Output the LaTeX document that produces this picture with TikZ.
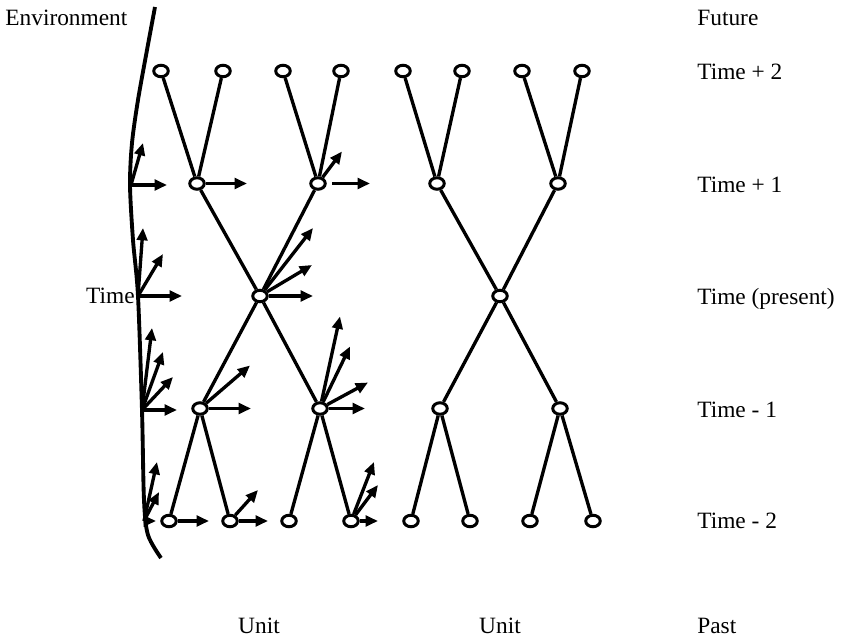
\documentclass[tikz,border=0pt]{standalone}
\usepackage{fontspec}
\setmainfont{Liberation Serif}
\usetikzlibrary{arrows.meta,positioning,shapes.geometric}
\tikzstyle{unitnode} = [ellipse, draw, line width=1.7pt, minimum width=0.29cm, minimum height=0.23cm, inner sep=0pt]
\tikzstyle{line} = [line width=1.9pt]
\tikzstyle{arrow} = [line width=1.9pt, -{Triangle[length=7pt,width=6pt]}]
\tikzstyle{tag} = [inner sep=0pt, font=\fontsize{13.3}{16}\selectfont]

\begin{document}
\begin{tikzpicture}[node distance=2.25cm]
\useasboundingbox (0,0) rectangle (17.02,-12.82);

% environment
\draw [line width=2.2pt] plot [smooth] coordinates {(3.1,-0.14) (2.94,-1.0) (2.76,-2.0) (2.64,-2.86) (2.6,-3.7) (2.66,-4.8) (2.76,-5.92) (2.84,-8.2) (2.88,-10.0) (2.96,-10.7) (3.22,-11.16)};
\coordinate (envp1) at (2.62,-3.70);
\coordinate (envnow) at (2.76,-5.92);
\coordinate (envm1) at (2.84,-8.2);
\coordinate (envm2) at (2.88,-10.42);

% left unit
\node (lnow) [unitnode] at (5.2,-5.92) {};
\node (lp1a) [unitnode, above of=lnow, xshift=-1.26cm] {};
\node (lp1b) [unitnode, above of=lnow, xshift=1.16cm] {};
\node (lp2a) [unitnode, above of=lp1a, xshift=-0.72cm] {};
\node (lp2b) [unitnode, above of=lp1a, xshift=0.52cm] {};
\node (lp2c) [unitnode, above of=lp1b, xshift=-0.7cm] {};
\node (lp2d) [unitnode, above of=lp1b, xshift=0.46cm] {};
\node (lm1a) [unitnode, below of=lnow, xshift=-1.2cm] {};
\node (lm1b) [unitnode, below of=lnow, xshift=1.2cm] {};
\node (lm2a) [unitnode, below of=lm1a, xshift=-0.62cm] {};
\node (lm2b) [unitnode, below of=lm1a, xshift=0.6cm] {};
\node (lm2c) [unitnode, below of=lm1b, xshift=-0.62cm] {};
\node (lm2d) [unitnode, below of=lm1b, xshift=0.62cm] {};

% right unit
\node (rnow) [unitnode, right of=lnow, node distance=4.8cm] {};
\node (rp1a) [unitnode, above of=rnow, xshift=-1.26cm] {};
\node (rp1b) [unitnode, above of=rnow, xshift=1.16cm] {};
\node (rp2a) [unitnode, above of=rp1a, xshift=-0.68cm] {};
\node (rp2b) [unitnode, above of=rp1a, xshift=0.5cm] {};
\node (rp2c) [unitnode, above of=rp1b, xshift=-0.72cm] {};
\node (rp2d) [unitnode, above of=rp1b, xshift=0.48cm] {};
\node (rm1a) [unitnode, below of=rnow, xshift=-1.2cm] {};
\node (rm1b) [unitnode, below of=rnow, xshift=1.2cm] {};
\node (rm2a) [unitnode, below of=rm1a, xshift=-0.58cm] {};
\node (rm2b) [unitnode, below of=rm1a, xshift=0.6cm] {};
\node (rm2c) [unitnode, below of=rm1b, xshift=-0.6cm] {};
\node (rm2d) [unitnode, below of=rm1b, xshift=0.66cm] {};

% texts
\node (envtext) [tag, anchor=base west] at (0.1,-0.51) {Environment};
\node (timetext) [tag, anchor=base east] at (2.7,-6.07) {Time};
\node (future) [tag, anchor=base west] at (13.94,-0.51) {Future};
\node (tp2) [tag, anchor=base west] at (13.94,-1.59) {Time + 2};
\node (tp1) [tag, anchor=base west] at (13.94,-3.85) {Time + 1};
\node (tnow) [tag, anchor=base west] at (13.94,-6.09) {Time (present)};
\node (tm1) [tag, anchor=base west] at (13.94,-8.35) {Time - 1};
\node (tm2) [tag, anchor=base west] at (13.94,-10.57) {Time - 2};
\node (past) [tag, anchor=base west] at (13.94,-12.67) {Past};
\node (unitl) [tag, anchor=base] at (5.18,-12.67) {Unit};
\node (unitr) [tag, anchor=base] at (10.0,-12.67) {Unit};

% links
\draw [line] (lnow) -- (lp1a);
\draw [line] (lnow) -- (lp1b);
\draw [line] (lp1a) -- (lp2a);
\draw [line] (lp1a) -- (lp2b);
\draw [line] (lp1b) -- (lp2c);
\draw [line] (lp1b) -- (lp2d);
\draw [line] (lnow) -- (lm1a);
\draw [line] (lnow) -- (lm1b);
\draw [line] (lm1a) -- (lm2a);
\draw [line] (lm1a) -- (lm2b);
\draw [line] (lm1b) -- (lm2c);
\draw [line] (lm1b) -- (lm2d);
\draw [line] (rnow) -- (rp1a);
\draw [line] (rnow) -- (rp1b);
\draw [line] (rp1a) -- (rp2a);
\draw [line] (rp1a) -- (rp2b);
\draw [line] (rp1b) -- (rp2c);
\draw [line] (rp1b) -- (rp2d);
\draw [line] (rnow) -- (rm1a);
\draw [line] (rnow) -- (rm1b);
\draw [line] (rm1a) -- (rm2a);
\draw [line] (rm1a) -- (rm2b);
\draw [line] (rm1b) -- (rm2c);
\draw [line] (rm1b) -- (rm2d);

% outputs to the environment
\draw [arrow] (envp1) -- ([shift={(0.24,0.84)}]envp1);
\draw [arrow] (envp1) -- ([shift={(0.72,0)}]envp1);
\draw [arrow] (envnow) -- ([shift={(0.1,1.36)}]envnow);
\draw [arrow] (envnow) -- ([shift={(0.5,0.84)}]envnow);
\draw [arrow] (envnow) -- ([shift={(0.88,0)}]envnow);
\draw [arrow] (envm1) -- ([shift={(0.2,1.64)}]envm1);
\draw [arrow] (envm1) -- ([shift={(0.42,1.16)}]envm1);
\draw [arrow] (envm1) -- ([shift={(0.62,0.66)}]envm1);
\draw [arrow] (envm1) -- ([shift={(0.7,0)}]envm1);
\draw [arrow] (envm2) -- ([shift={(0.26,1.18)}]envm2);
\draw [arrow] (envm2) -- ([shift={(0.3,0.58)}]envm2);
\draw [arrow] (envm2) -- ([shift={(0.24,0)}]envm2);

\draw [arrow] (lp1a) -- ([xshift=1cm]lp1a.center);
\draw [arrow] (lp1b) -- ([shift={(0.48,0.64)}]lp1b.center);
\draw [arrow, shorten <=3pt] (lp1b) -- ([xshift=1.04cm]lp1b.center);
\draw [arrow] (lnow) -- ([shift={(1.06,1.36)}]lnow.center);
\draw [arrow] (lnow) -- ([shift={(1.04,0.62)}]lnow.center);
\draw [arrow] (lnow) -- ([xshift=1.06cm]lnow.center);
\draw [arrow] (lm1a) -- ([shift={(1.0,0.86)}]lm1a.center);
\draw [arrow] (lm1a) -- ([xshift=1.02cm]lm1a.center);
\draw [arrow] (lm1b) -- ([shift={(0.4,1.84)}]lm1b.center);
\draw [arrow] (lm1b) -- ([shift={(0.6,1.24)}]lm1b.center);
\draw [arrow] (lm1b) -- ([shift={(0.96,0.52)}]lm1b.center);
\draw [arrow] (lm1b) -- ([xshift=0.9cm]lm1b.center);
\draw [arrow] (lm2a) -- ([xshift=0.8cm]lm2a.center);
\draw [arrow] (lm2b) -- ([shift={(0.56,0.62)}]lm2b.center);
\draw [arrow] (lm2b) -- ([xshift=0.76cm]lm2b.center);
\draw [arrow] (lm2d) -- ([shift={(0.46,1.18)}]lm2d.center);
\draw [arrow] (lm2d) -- ([shift={(0.54,0.72)}]lm2d.center);
\draw [arrow] (lm2d) -- ([xshift=0.54cm]lm2d.center);
\end{tikzpicture}
\end{document}
